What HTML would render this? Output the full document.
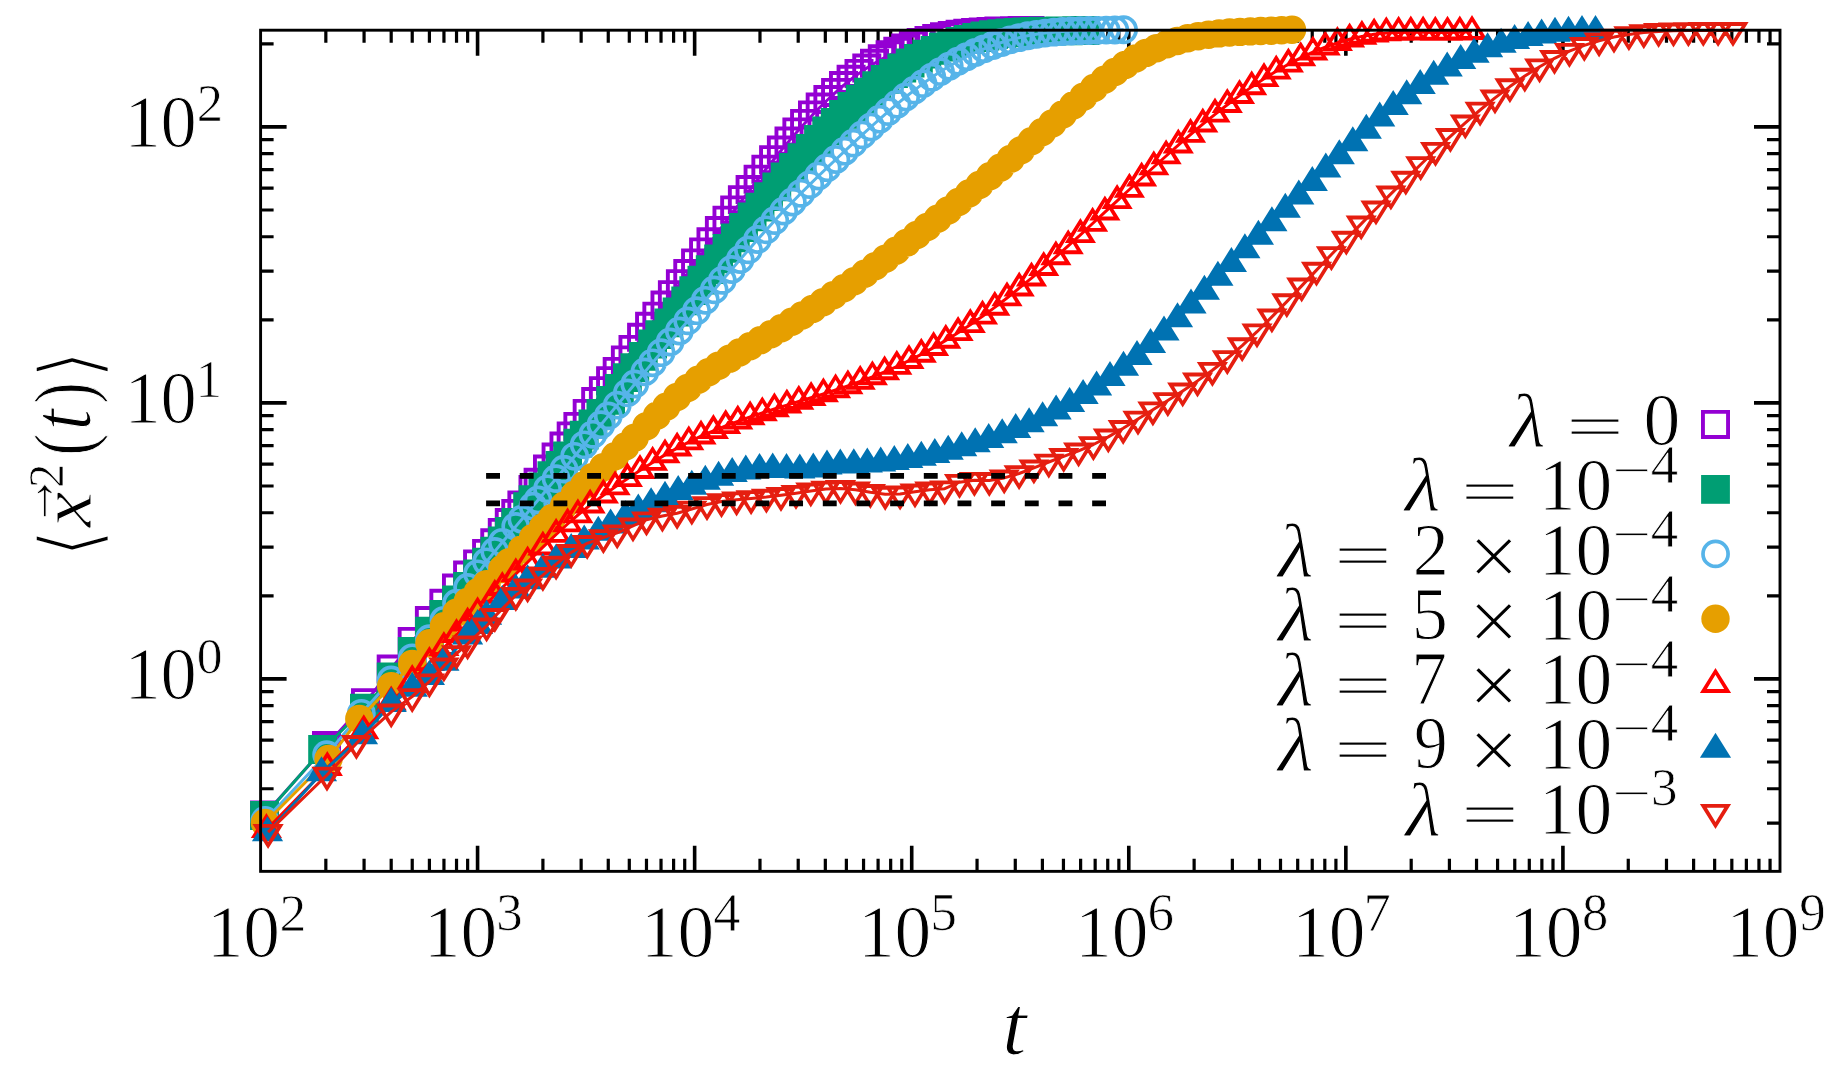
<!DOCTYPE html>
<html><head><meta charset="utf-8"><style>
html,body{margin:0;padding:0;background:#fff;}
svg{display:block;}
text{font-family:'Liberation Serif','DejaVu Serif',serif;fill:#000;stroke:#fff;stroke-width:1.4px;}
</style></head><body>
<svg width="1843" height="1078" viewBox="0 0 1843 1078">
<rect width="1843" height="1078" fill="#fff"/>
<path d="M325.84 871.35V858.85M325.84 30.20V42.70M364.07 871.35V858.85M364.07 30.20V42.70M391.19 871.35V858.85M391.19 30.20V42.70M412.23 871.35V858.85M412.23 30.20V42.70M429.41 871.35V858.85M429.41 30.20V42.70M443.95 871.35V858.85M443.95 30.20V42.70M456.53 871.35V858.85M456.53 30.20V42.70M467.64 871.35V858.85M467.64 30.20V42.70M542.91 871.35V858.85M542.91 30.20V42.70M581.14 871.35V858.85M581.14 30.20V42.70M608.26 871.35V858.85M608.26 30.20V42.70M629.30 871.35V858.85M629.30 30.20V42.70M646.48 871.35V858.85M646.48 30.20V42.70M661.02 871.35V858.85M661.02 30.20V42.70M673.60 871.35V858.85M673.60 30.20V42.70M684.71 871.35V858.85M684.71 30.20V42.70M759.98 871.35V858.85M759.98 30.20V42.70M798.21 871.35V858.85M798.21 30.20V42.70M825.33 871.35V858.85M825.33 30.20V42.70M846.37 871.35V858.85M846.37 30.20V42.70M863.55 871.35V858.85M863.55 30.20V42.70M878.09 871.35V858.85M878.09 30.20V42.70M890.67 871.35V858.85M890.67 30.20V42.70M901.78 871.35V858.85M901.78 30.20V42.70M977.05 871.35V858.85M977.05 30.20V42.70M1015.28 871.35V858.85M1015.28 30.20V42.70M1042.40 871.35V858.85M1042.40 30.20V42.70M1063.44 871.35V858.85M1063.44 30.20V42.70M1080.62 871.35V858.85M1080.62 30.20V42.70M1095.16 871.35V858.85M1095.16 30.20V42.70M1107.74 871.35V858.85M1107.74 30.20V42.70M1118.85 871.35V858.85M1118.85 30.20V42.70M1194.12 871.35V858.85M1194.12 30.20V42.70M1232.35 871.35V858.85M1232.35 30.20V42.70M1259.47 871.35V858.85M1259.47 30.20V42.70M1280.51 871.35V858.85M1280.51 30.20V42.70M1297.69 871.35V858.85M1297.69 30.20V42.70M1312.23 871.35V858.85M1312.23 30.20V42.70M1324.81 871.35V858.85M1324.81 30.20V42.70M1335.92 871.35V858.85M1335.92 30.20V42.70M1411.19 871.35V858.85M1411.19 30.20V42.70M1449.42 871.35V858.85M1449.42 30.20V42.70M1476.54 871.35V858.85M1476.54 30.20V42.70M1497.58 871.35V858.85M1497.58 30.20V42.70M1514.76 871.35V858.85M1514.76 30.20V42.70M1529.30 871.35V858.85M1529.30 30.20V42.70M1541.88 871.35V858.85M1541.88 30.20V42.70M1552.99 871.35V858.85M1552.99 30.20V42.70M1628.26 871.35V858.85M1628.26 30.20V42.70M1666.49 871.35V858.85M1666.49 30.20V42.70M1693.61 871.35V858.85M1693.61 30.20V42.70M1714.65 871.35V858.85M1714.65 30.20V42.70M1731.83 871.35V858.85M1731.83 30.20V42.70M1746.37 871.35V858.85M1746.37 30.20V42.70M1758.95 871.35V858.85M1758.95 30.20V42.70M1770.06 871.35V858.85M1770.06 30.20V42.70M260.60 823.21H273.60M1780.00 823.21H1767.00M260.60 788.73H273.60M1780.00 788.73H1767.00M260.60 761.98H273.60M1780.00 761.98H1767.00M260.60 740.13H273.60M1780.00 740.13H1767.00M260.60 721.65H273.60M1780.00 721.65H1767.00M260.60 705.65H273.60M1780.00 705.65H1767.00M260.60 691.53H273.60M1780.00 691.53H1767.00M260.60 595.82H273.60M1780.00 595.82H1767.00M260.60 547.21H273.60M1780.00 547.21H1767.00M260.60 512.73H273.60M1780.00 512.73H1767.00M260.60 485.98H273.60M1780.00 485.98H1767.00M260.60 464.13H273.60M1780.00 464.13H1767.00M260.60 445.65H273.60M1780.00 445.65H1767.00M260.60 429.65H273.60M1780.00 429.65H1767.00M260.60 415.53H273.60M1780.00 415.53H1767.00M260.60 319.82H273.60M1780.00 319.82H1767.00M260.60 271.21H273.60M1780.00 271.21H1767.00M260.60 236.73H273.60M1780.00 236.73H1767.00M260.60 209.98H273.60M1780.00 209.98H1767.00M260.60 188.13H273.60M1780.00 188.13H1767.00M260.60 169.65H273.60M1780.00 169.65H1767.00M260.60 153.65H273.60M1780.00 153.65H1767.00M260.60 139.53H273.60M1780.00 139.53H1767.00M260.60 43.82H273.60M1780.00 43.82H1767.00" stroke="#000" stroke-width="3.2" fill="none"/>
<path d="M477.57 871.35V845.85M477.57 30.20V55.70M694.64 871.35V845.85M694.64 30.20V55.70M911.71 871.35V845.85M911.71 30.20V55.70M1128.78 871.35V845.85M1128.78 30.20V55.70M1345.85 871.35V845.85M1345.85 30.20V55.70M1562.92 871.35V845.85M1562.92 30.20V55.70M260.60 678.90H286.60M1780.00 678.90H1754.00M260.60 402.90H286.60M1780.00 402.90H1754.00M260.60 126.90H286.60M1780.00 126.90H1754.00" stroke="#000" stroke-width="3.6" fill="none"/>
<path d="M264.5 815.0L326.5 745.5L365.5 702.7L391.2 669.0L412.2 641.4L429.4 620.6L443.9 603.3L456.5 588.1L467.6 575.1L477.6 563.9L486.6 553.4L494.8 542.8L502.3 532.4L509.3 522.6L515.8 513.4L521.9 504.9L533.0 489.4L538.1 482.3L547.5 469.1L556.1 457.1L564.0 446.0L571.2 435.9L577.9 426.4L587.2 413.4L595.7 401.6L603.4 390.7L610.6 380.7L617.2 371.4L625.4 359.9L633.0 349.4L641.6 337.3L649.6 326.3L656.9 316.2L665.0 305.0L672.4 294.7L680.4 283.7L687.8 273.6L695.6 262.9L703.6 251.9L711.0 241.8L719.4 230.5L727.0 220.2L734.7 209.9L742.4 199.7L750.1 189.6L758.1 179.2L765.9 169.2L773.6 159.7L781.4 150.1L789.0 141.1L796.9 131.9L804.6 123.4L812.5 114.9L820.2 107.0L827.9 99.5L835.6 92.4L843.5 85.5L851.1 79.3L859.0 73.4L866.8 68.1L874.5 63.3L882.3 58.8L890.1 54.8L897.8 51.3L905.7 48.0L913.4 45.2L921.2 42.6L929.0 40.4L936.7 38.5L944.5 36.8L952.3 35.4L960.1 34.3L967.8 33.3L975.6 32.5L983.3 31.9L991.1 31.5L998.9 31.1L1006.7 30.9L1014.5 30.7L1022.2 30.6L1030.0 30.5" fill="none" stroke="#9400D3" stroke-width="3" stroke-linejoin="round"/>
<path d="M250.0 800.5h29.0v29.0h-29.0zM253.9 804.4v21.2h21.2v-21.2zM312.0 731.0h29.0v29.0h-29.0zM315.9 734.9v21.2h21.2v-21.2zM351.0 688.2h29.0v29.0h-29.0zM354.9 692.1v21.2h21.2v-21.2zM376.7 654.5h29.0v29.0h-29.0zM380.6 658.4v21.2h21.2v-21.2zM397.7 626.9h29.0v29.0h-29.0zM401.6 630.8v21.2h21.2v-21.2zM414.9 606.1h29.0v29.0h-29.0zM418.8 610.0v21.2h21.2v-21.2zM429.4 588.8h29.0v29.0h-29.0zM433.3 592.7v21.2h21.2v-21.2zM442.0 573.6h29.0v29.0h-29.0zM445.9 577.5v21.2h21.2v-21.2zM453.1 560.6h29.0v29.0h-29.0zM457.0 564.5v21.2h21.2v-21.2zM463.1 549.4h29.0v29.0h-29.0zM467.0 553.3v21.2h21.2v-21.2zM472.1 538.9h29.0v29.0h-29.0zM476.0 542.8v21.2h21.2v-21.2zM480.3 528.3h29.0v29.0h-29.0zM484.2 532.2v21.2h21.2v-21.2zM487.8 517.9h29.0v29.0h-29.0zM491.7 521.8v21.2h21.2v-21.2zM494.8 508.1h29.0v29.0h-29.0zM498.7 512.0v21.2h21.2v-21.2zM501.3 498.9h29.0v29.0h-29.0zM505.2 502.8v21.2h21.2v-21.2zM507.4 490.4h29.0v29.0h-29.0zM511.3 494.3v21.2h21.2v-21.2zM518.5 474.9h29.0v29.0h-29.0zM522.4 478.8v21.2h21.2v-21.2zM523.6 467.8h29.0v29.0h-29.0zM527.5 471.7v21.2h21.2v-21.2zM533.0 454.6h29.0v29.0h-29.0zM536.9 458.5v21.2h21.2v-21.2zM541.6 442.6h29.0v29.0h-29.0zM545.5 446.5v21.2h21.2v-21.2zM549.5 431.5h29.0v29.0h-29.0zM553.4 435.4v21.2h21.2v-21.2zM556.7 421.4h29.0v29.0h-29.0zM560.6 425.3v21.2h21.2v-21.2zM563.4 411.9h29.0v29.0h-29.0zM567.3 415.8v21.2h21.2v-21.2zM572.7 398.9h29.0v29.0h-29.0zM576.6 402.8v21.2h21.2v-21.2zM581.2 387.1h29.0v29.0h-29.0zM585.1 391.0v21.2h21.2v-21.2zM588.9 376.2h29.0v29.0h-29.0zM592.8 380.1v21.2h21.2v-21.2zM596.1 366.2h29.0v29.0h-29.0zM600.0 370.1v21.2h21.2v-21.2zM602.7 356.9h29.0v29.0h-29.0zM606.6 360.8v21.2h21.2v-21.2zM610.9 345.4h29.0v29.0h-29.0zM614.8 349.3v21.2h21.2v-21.2zM618.5 334.9h29.0v29.0h-29.0zM622.4 338.8v21.2h21.2v-21.2zM627.1 322.8h29.0v29.0h-29.0zM631.0 326.7v21.2h21.2v-21.2zM635.1 311.8h29.0v29.0h-29.0zM639.0 315.7v21.2h21.2v-21.2zM642.4 301.7h29.0v29.0h-29.0zM646.3 305.6v21.2h21.2v-21.2zM650.5 290.5h29.0v29.0h-29.0zM654.4 294.4v21.2h21.2v-21.2zM657.9 280.2h29.0v29.0h-29.0zM661.8 284.1v21.2h21.2v-21.2zM665.9 269.2h29.0v29.0h-29.0zM669.8 273.1v21.2h21.2v-21.2zM673.3 259.1h29.0v29.0h-29.0zM677.2 263.0v21.2h21.2v-21.2zM681.1 248.4h29.0v29.0h-29.0zM685.0 252.3v21.2h21.2v-21.2zM689.1 237.4h29.0v29.0h-29.0zM693.0 241.3v21.2h21.2v-21.2zM696.5 227.3h29.0v29.0h-29.0zM700.4 231.2v21.2h21.2v-21.2zM704.9 216.0h29.0v29.0h-29.0zM708.8 219.9v21.2h21.2v-21.2zM712.5 205.7h29.0v29.0h-29.0zM716.4 209.6v21.2h21.2v-21.2zM720.2 195.4h29.0v29.0h-29.0zM724.1 199.3v21.2h21.2v-21.2zM727.9 185.2h29.0v29.0h-29.0zM731.8 189.1v21.2h21.2v-21.2zM735.6 175.1h29.0v29.0h-29.0zM739.5 179.0v21.2h21.2v-21.2zM743.6 164.7h29.0v29.0h-29.0zM747.5 168.6v21.2h21.2v-21.2zM751.4 154.7h29.0v29.0h-29.0zM755.3 158.6v21.2h21.2v-21.2zM759.1 145.2h29.0v29.0h-29.0zM763.0 149.1v21.2h21.2v-21.2zM766.9 135.6h29.0v29.0h-29.0zM770.8 139.5v21.2h21.2v-21.2zM774.5 126.6h29.0v29.0h-29.0zM778.4 130.5v21.2h21.2v-21.2zM782.4 117.4h29.0v29.0h-29.0zM786.3 121.3v21.2h21.2v-21.2zM790.1 108.9h29.0v29.0h-29.0zM794.0 112.8v21.2h21.2v-21.2zM798.0 100.4h29.0v29.0h-29.0zM801.9 104.3v21.2h21.2v-21.2zM805.7 92.5h29.0v29.0h-29.0zM809.6 96.4v21.2h21.2v-21.2zM813.4 85.0h29.0v29.0h-29.0zM817.3 88.9v21.2h21.2v-21.2zM821.1 77.9h29.0v29.0h-29.0zM825.0 81.8v21.2h21.2v-21.2zM829.0 71.0h29.0v29.0h-29.0zM832.9 74.9v21.2h21.2v-21.2zM836.6 64.8h29.0v29.0h-29.0zM840.5 68.7v21.2h21.2v-21.2zM844.5 58.9h29.0v29.0h-29.0zM848.4 62.8v21.2h21.2v-21.2zM852.3 53.6h29.0v29.0h-29.0zM856.2 57.5v21.2h21.2v-21.2zM860.0 48.8h29.0v29.0h-29.0zM863.9 52.7v21.2h21.2v-21.2zM867.8 44.3h29.0v29.0h-29.0zM871.7 48.2v21.2h21.2v-21.2zM875.6 40.3h29.0v29.0h-29.0zM879.5 44.2v21.2h21.2v-21.2zM883.3 36.8h29.0v29.0h-29.0zM887.2 40.7v21.2h21.2v-21.2zM891.2 33.5h29.0v29.0h-29.0zM895.1 37.4v21.2h21.2v-21.2zM898.9 30.7h29.0v29.0h-29.0zM902.8 34.6v21.2h21.2v-21.2zM906.7 28.1h29.0v29.0h-29.0zM910.6 32.0v21.2h21.2v-21.2zM914.5 25.9h29.0v29.0h-29.0zM918.4 29.8v21.2h21.2v-21.2zM922.2 24.0h29.0v29.0h-29.0zM926.1 27.9v21.2h21.2v-21.2zM930.0 22.3h29.0v29.0h-29.0zM933.9 26.2v21.2h21.2v-21.2zM937.8 20.9h29.0v29.0h-29.0zM941.7 24.8v21.2h21.2v-21.2zM945.6 19.8h29.0v29.0h-29.0zM949.5 23.7v21.2h21.2v-21.2zM953.3 18.8h29.0v29.0h-29.0zM957.2 22.7v21.2h21.2v-21.2zM961.1 18.0h29.0v29.0h-29.0zM965.0 21.9v21.2h21.2v-21.2zM968.8 17.4h29.0v29.0h-29.0zM972.7 21.3v21.2h21.2v-21.2zM976.6 17.0h29.0v29.0h-29.0zM980.5 20.9v21.2h21.2v-21.2zM984.4 16.6h29.0v29.0h-29.0zM988.3 20.5v21.2h21.2v-21.2zM992.2 16.4h29.0v29.0h-29.0zM996.1 20.3v21.2h21.2v-21.2zM1000.0 16.2h29.0v29.0h-29.0zM1003.9 20.1v21.2h21.2v-21.2zM1007.7 16.1h29.0v29.0h-29.0zM1011.6 20.0v21.2h21.2v-21.2zM1015.5 16.0h29.0v29.0h-29.0zM1019.4 19.9v21.2h21.2v-21.2z" fill="#9400D3" fill-rule="nonzero"/>
<path d="M264.5 815.5L322.6 749.5L364.4 708.2L391.2 676.8L412.2 651.3L429.4 631.2L443.9 614.5L456.5 599.8L467.6 586.4L477.6 573.9L486.6 562.1L494.8 551.1L502.3 540.8L509.3 531.3L515.8 522.5L527.6 506.7L533.0 499.6L542.9 486.9L551.9 475.6L560.1 465.3L567.6 456.0L577.9 443.1L584.2 435.2L592.9 424.0L600.9 413.5L610.6 400.4L619.4 388.5L627.4 377.6L634.8 367.6L643.3 356.3L652.6 344.0L659.7 334.7L668.8 322.8L677.1 312.0L685.7 300.9L693.7 290.7L701.9 280.2L710.2 269.6L718.6 258.9L727.0 248.3L735.3 237.8L743.5 227.5L752.1 216.8L760.0 207.1L768.5 196.7L776.8 186.8L785.1 176.9L793.4 167.3L801.9 157.6L810.3 148.3L818.5 139.5L826.7 130.9L835.2 122.4L843.5 114.3L851.9 106.5L860.2 99.1L868.5 92.2L876.7 85.6L885.1 79.3L893.5 73.5L901.8 68.0L910.1 63.0L918.4 58.4L926.8 54.2L935.1 50.4L943.4 47.0L951.7 44.1L960.1 41.5L968.4 39.3L976.7 37.5L985.0 36.0L993.4 34.7L1001.7 33.7L1010.0 32.9L1018.4 32.3L1026.7 31.8L1035.0 31.5L1043.4 31.2L1051.7 31.1L1060.0 30.9L1068.3 30.8L1076.7 30.6L1085.0 30.5" fill="none" stroke="#009E73" stroke-width="3" stroke-linejoin="round"/>
<path d="M250.1 801.1h28.8v28.8h-28.8zM308.2 735.1h28.8v28.8h-28.8zM350.0 693.8h28.8v28.8h-28.8zM376.8 662.4h28.8v28.8h-28.8zM397.8 636.9h28.8v28.8h-28.8zM415.0 616.8h28.8v28.8h-28.8zM429.5 600.1h28.8v28.8h-28.8zM442.1 585.4h28.8v28.8h-28.8zM453.2 572.0h28.8v28.8h-28.8zM463.2 559.5h28.8v28.8h-28.8zM472.2 547.7h28.8v28.8h-28.8zM480.4 536.7h28.8v28.8h-28.8zM487.9 526.4h28.8v28.8h-28.8zM494.9 516.9h28.8v28.8h-28.8zM501.4 508.1h28.8v28.8h-28.8zM513.2 492.3h28.8v28.8h-28.8zM518.6 485.2h28.8v28.8h-28.8zM528.5 472.5h28.8v28.8h-28.8zM537.5 461.2h28.8v28.8h-28.8zM545.7 450.9h28.8v28.8h-28.8zM553.2 441.6h28.8v28.8h-28.8zM563.5 428.7h28.8v28.8h-28.8zM569.8 420.8h28.8v28.8h-28.8zM578.5 409.6h28.8v28.8h-28.8zM586.5 399.1h28.8v28.8h-28.8zM596.2 386.0h28.8v28.8h-28.8zM605.0 374.1h28.8v28.8h-28.8zM613.0 363.2h28.8v28.8h-28.8zM620.4 353.2h28.8v28.8h-28.8zM628.9 341.9h28.8v28.8h-28.8zM638.2 329.6h28.8v28.8h-28.8zM645.3 320.3h28.8v28.8h-28.8zM654.4 308.4h28.8v28.8h-28.8zM662.7 297.6h28.8v28.8h-28.8zM671.3 286.5h28.8v28.8h-28.8zM679.3 276.3h28.8v28.8h-28.8zM687.5 265.8h28.8v28.8h-28.8zM695.8 255.2h28.8v28.8h-28.8zM704.2 244.5h28.8v28.8h-28.8zM712.6 233.9h28.8v28.8h-28.8zM720.9 223.4h28.8v28.8h-28.8zM729.1 213.1h28.8v28.8h-28.8zM737.7 202.4h28.8v28.8h-28.8zM745.6 192.7h28.8v28.8h-28.8zM754.1 182.3h28.8v28.8h-28.8zM762.4 172.4h28.8v28.8h-28.8zM770.7 162.5h28.8v28.8h-28.8zM779.0 152.9h28.8v28.8h-28.8zM787.5 143.2h28.8v28.8h-28.8zM795.9 133.9h28.8v28.8h-28.8zM804.1 125.1h28.8v28.8h-28.8zM812.3 116.5h28.8v28.8h-28.8zM820.8 108.0h28.8v28.8h-28.8zM829.1 99.9h28.8v28.8h-28.8zM837.5 92.1h28.8v28.8h-28.8zM845.8 84.7h28.8v28.8h-28.8zM854.1 77.8h28.8v28.8h-28.8zM862.3 71.2h28.8v28.8h-28.8zM870.7 64.9h28.8v28.8h-28.8zM879.1 59.1h28.8v28.8h-28.8zM887.4 53.6h28.8v28.8h-28.8zM895.7 48.6h28.8v28.8h-28.8zM904.0 44.0h28.8v28.8h-28.8zM912.4 39.8h28.8v28.8h-28.8zM920.7 36.0h28.8v28.8h-28.8zM929.0 32.6h28.8v28.8h-28.8zM937.3 29.7h28.8v28.8h-28.8zM945.7 27.1h28.8v28.8h-28.8zM954.0 24.9h28.8v28.8h-28.8zM962.3 23.1h28.8v28.8h-28.8zM970.6 21.6h28.8v28.8h-28.8zM979.0 20.3h28.8v28.8h-28.8zM987.3 19.3h28.8v28.8h-28.8zM995.6 18.5h28.8v28.8h-28.8zM1004.0 17.9h28.8v28.8h-28.8zM1012.3 17.4h28.8v28.8h-28.8zM1020.6 17.1h28.8v28.8h-28.8zM1029.0 16.8h28.8v28.8h-28.8zM1037.3 16.7h28.8v28.8h-28.8zM1045.6 16.5h28.8v28.8h-28.8zM1053.9 16.4h28.8v28.8h-28.8zM1062.3 16.2h28.8v28.8h-28.8zM1070.6 16.1h28.8v28.8h-28.8z" fill="#009E73" fill-rule="nonzero"/>
<path d="M265.0 820.4L326.6 754.6L361.3 713.3L391.2 679.9L412.2 657.8L429.4 638.6L443.9 620.3L456.5 603.1L467.6 587.5L477.6 573.8L486.6 561.8L494.8 551.4L502.3 542.3L515.8 526.4L521.9 519.2L533.0 506.1L538.1 500.0L547.5 488.8L556.1 478.6L564.0 469.1L574.6 456.3L584.2 444.8L592.9 434.3L600.9 424.7L608.3 415.9L617.2 405.1L627.4 392.9L634.8 384.0L644.9 371.9L652.6 362.8L661.0 352.7L670.0 342.0L679.3 331.0L687.8 320.9L696.5 310.7L705.3 300.3L714.2 289.9L722.2 280.4L731.6 269.5L740.1 259.5L748.5 249.9L757.6 239.5L766.4 229.8L774.8 220.6L783.6 211.1L792.4 202.0L801.0 193.3L809.7 184.6L818.5 176.0L827.2 167.7L835.8 159.5L844.7 151.2L853.3 143.1L862.1 134.9L870.8 127.0L879.6 119.2L888.2 111.6L896.9 104.2L905.7 97.0L914.4 90.1L923.1 83.6L931.8 77.3L940.5 71.6L949.2 66.2L957.9 61.2L966.6 56.7L975.4 52.5L984.1 48.8L992.8 45.5L1001.5 42.5L1010.3 39.9L1019.0 37.7L1027.7 35.8L1036.4 34.3L1045.1 33.1L1053.9 32.2L1062.6 31.5L1071.3 31.0L1080.0 30.7L1088.7 30.5L1097.4 30.3L1106.2 30.1L1114.9 30.0L1123.6 29.8" fill="none" stroke="#56B4E9" stroke-width="3" stroke-linejoin="round"/>
<path d="M252.4 820.4a12.55 12.55 0 1 0 25.1 0a12.55 12.55 0 1 0 -25.1 0zM314.1 754.6a12.55 12.55 0 1 0 25.1 0a12.55 12.55 0 1 0 -25.1 0zM348.8 713.3a12.55 12.55 0 1 0 25.1 0a12.55 12.55 0 1 0 -25.1 0zM378.6 679.9a12.55 12.55 0 1 0 25.1 0a12.55 12.55 0 1 0 -25.1 0zM399.7 657.8a12.55 12.55 0 1 0 25.1 0a12.55 12.55 0 1 0 -25.1 0zM416.9 638.6a12.55 12.55 0 1 0 25.1 0a12.55 12.55 0 1 0 -25.1 0zM431.4 620.3a12.55 12.55 0 1 0 25.1 0a12.55 12.55 0 1 0 -25.1 0zM444.0 603.1a12.55 12.55 0 1 0 25.1 0a12.55 12.55 0 1 0 -25.1 0zM455.1 587.5a12.55 12.55 0 1 0 25.1 0a12.55 12.55 0 1 0 -25.1 0zM465.0 573.8a12.55 12.55 0 1 0 25.1 0a12.55 12.55 0 1 0 -25.1 0zM474.0 561.8a12.55 12.55 0 1 0 25.1 0a12.55 12.55 0 1 0 -25.1 0zM482.2 551.4a12.55 12.55 0 1 0 25.1 0a12.55 12.55 0 1 0 -25.1 0zM489.8 542.3a12.55 12.55 0 1 0 25.1 0a12.55 12.55 0 1 0 -25.1 0zM503.2 526.4a12.55 12.55 0 1 0 25.1 0a12.55 12.55 0 1 0 -25.1 0zM509.3 519.2a12.55 12.55 0 1 0 25.1 0a12.55 12.55 0 1 0 -25.1 0zM520.4 506.1a12.55 12.55 0 1 0 25.1 0a12.55 12.55 0 1 0 -25.1 0zM525.5 500.0a12.55 12.55 0 1 0 25.1 0a12.55 12.55 0 1 0 -25.1 0zM535.0 488.8a12.55 12.55 0 1 0 25.1 0a12.55 12.55 0 1 0 -25.1 0zM543.5 478.6a12.55 12.55 0 1 0 25.1 0a12.55 12.55 0 1 0 -25.1 0zM551.4 469.1a12.55 12.55 0 1 0 25.1 0a12.55 12.55 0 1 0 -25.1 0zM562.1 456.3a12.55 12.55 0 1 0 25.1 0a12.55 12.55 0 1 0 -25.1 0zM571.7 444.8a12.55 12.55 0 1 0 25.1 0a12.55 12.55 0 1 0 -25.1 0zM580.4 434.3a12.55 12.55 0 1 0 25.1 0a12.55 12.55 0 1 0 -25.1 0zM588.4 424.7a12.55 12.55 0 1 0 25.1 0a12.55 12.55 0 1 0 -25.1 0zM595.7 415.9a12.55 12.55 0 1 0 25.1 0a12.55 12.55 0 1 0 -25.1 0zM604.7 405.1a12.55 12.55 0 1 0 25.1 0a12.55 12.55 0 1 0 -25.1 0zM614.8 392.9a12.55 12.55 0 1 0 25.1 0a12.55 12.55 0 1 0 -25.1 0zM622.2 384.0a12.55 12.55 0 1 0 25.1 0a12.55 12.55 0 1 0 -25.1 0zM632.3 371.9a12.55 12.55 0 1 0 25.1 0a12.55 12.55 0 1 0 -25.1 0zM640.0 362.8a12.55 12.55 0 1 0 25.1 0a12.55 12.55 0 1 0 -25.1 0zM648.5 352.7a12.55 12.55 0 1 0 25.1 0a12.55 12.55 0 1 0 -25.1 0zM657.5 342.0a12.55 12.55 0 1 0 25.1 0a12.55 12.55 0 1 0 -25.1 0zM666.8 331.0a12.55 12.55 0 1 0 25.1 0a12.55 12.55 0 1 0 -25.1 0zM675.2 320.9a12.55 12.55 0 1 0 25.1 0a12.55 12.55 0 1 0 -25.1 0zM684.0 310.7a12.55 12.55 0 1 0 25.1 0a12.55 12.55 0 1 0 -25.1 0zM692.8 300.3a12.55 12.55 0 1 0 25.1 0a12.55 12.55 0 1 0 -25.1 0zM701.6 289.9a12.55 12.55 0 1 0 25.1 0a12.55 12.55 0 1 0 -25.1 0zM709.7 280.4a12.55 12.55 0 1 0 25.1 0a12.55 12.55 0 1 0 -25.1 0zM719.0 269.5a12.55 12.55 0 1 0 25.1 0a12.55 12.55 0 1 0 -25.1 0zM727.6 259.5a12.55 12.55 0 1 0 25.1 0a12.55 12.55 0 1 0 -25.1 0zM735.9 249.9a12.55 12.55 0 1 0 25.1 0a12.55 12.55 0 1 0 -25.1 0zM745.0 239.5a12.55 12.55 0 1 0 25.1 0a12.55 12.55 0 1 0 -25.1 0zM753.8 229.8a12.55 12.55 0 1 0 25.1 0a12.55 12.55 0 1 0 -25.1 0zM762.2 220.6a12.55 12.55 0 1 0 25.1 0a12.55 12.55 0 1 0 -25.1 0zM771.1 211.1a12.55 12.55 0 1 0 25.1 0a12.55 12.55 0 1 0 -25.1 0zM779.8 202.0a12.55 12.55 0 1 0 25.1 0a12.55 12.55 0 1 0 -25.1 0zM788.4 193.3a12.55 12.55 0 1 0 25.1 0a12.55 12.55 0 1 0 -25.1 0zM797.2 184.6a12.55 12.55 0 1 0 25.1 0a12.55 12.55 0 1 0 -25.1 0zM805.9 176.0a12.55 12.55 0 1 0 25.1 0a12.55 12.55 0 1 0 -25.1 0zM814.6 167.7a12.55 12.55 0 1 0 25.1 0a12.55 12.55 0 1 0 -25.1 0zM823.3 159.5a12.55 12.55 0 1 0 25.1 0a12.55 12.55 0 1 0 -25.1 0zM832.1 151.2a12.55 12.55 0 1 0 25.1 0a12.55 12.55 0 1 0 -25.1 0zM840.7 143.1a12.55 12.55 0 1 0 25.1 0a12.55 12.55 0 1 0 -25.1 0zM849.6 134.9a12.55 12.55 0 1 0 25.1 0a12.55 12.55 0 1 0 -25.1 0zM858.3 127.0a12.55 12.55 0 1 0 25.1 0a12.55 12.55 0 1 0 -25.1 0zM867.0 119.2a12.55 12.55 0 1 0 25.1 0a12.55 12.55 0 1 0 -25.1 0zM875.6 111.6a12.55 12.55 0 1 0 25.1 0a12.55 12.55 0 1 0 -25.1 0zM884.4 104.2a12.55 12.55 0 1 0 25.1 0a12.55 12.55 0 1 0 -25.1 0zM893.1 97.0a12.55 12.55 0 1 0 25.1 0a12.55 12.55 0 1 0 -25.1 0zM901.9 90.1a12.55 12.55 0 1 0 25.1 0a12.55 12.55 0 1 0 -25.1 0zM910.5 83.6a12.55 12.55 0 1 0 25.1 0a12.55 12.55 0 1 0 -25.1 0zM919.3 77.3a12.55 12.55 0 1 0 25.1 0a12.55 12.55 0 1 0 -25.1 0zM927.9 71.6a12.55 12.55 0 1 0 25.1 0a12.55 12.55 0 1 0 -25.1 0zM936.7 66.2a12.55 12.55 0 1 0 25.1 0a12.55 12.55 0 1 0 -25.1 0zM945.4 61.2a12.55 12.55 0 1 0 25.1 0a12.55 12.55 0 1 0 -25.1 0zM954.1 56.7a12.55 12.55 0 1 0 25.1 0a12.55 12.55 0 1 0 -25.1 0zM962.8 52.5a12.55 12.55 0 1 0 25.1 0a12.55 12.55 0 1 0 -25.1 0zM971.5 48.8a12.55 12.55 0 1 0 25.1 0a12.55 12.55 0 1 0 -25.1 0zM980.3 45.5a12.55 12.55 0 1 0 25.1 0a12.55 12.55 0 1 0 -25.1 0zM989.0 42.5a12.55 12.55 0 1 0 25.1 0a12.55 12.55 0 1 0 -25.1 0zM997.7 39.9a12.55 12.55 0 1 0 25.1 0a12.55 12.55 0 1 0 -25.1 0zM1006.4 37.7a12.55 12.55 0 1 0 25.1 0a12.55 12.55 0 1 0 -25.1 0zM1015.2 35.8a12.55 12.55 0 1 0 25.1 0a12.55 12.55 0 1 0 -25.1 0zM1023.9 34.3a12.55 12.55 0 1 0 25.1 0a12.55 12.55 0 1 0 -25.1 0zM1032.6 33.1a12.55 12.55 0 1 0 25.1 0a12.55 12.55 0 1 0 -25.1 0zM1041.3 32.2a12.55 12.55 0 1 0 25.1 0a12.55 12.55 0 1 0 -25.1 0zM1050.0 31.5a12.55 12.55 0 1 0 25.1 0a12.55 12.55 0 1 0 -25.1 0zM1058.7 31.0a12.55 12.55 0 1 0 25.1 0a12.55 12.55 0 1 0 -25.1 0zM1067.5 30.7a12.55 12.55 0 1 0 25.1 0a12.55 12.55 0 1 0 -25.1 0zM1076.2 30.5a12.55 12.55 0 1 0 25.1 0a12.55 12.55 0 1 0 -25.1 0zM1084.9 30.3a12.55 12.55 0 1 0 25.1 0a12.55 12.55 0 1 0 -25.1 0zM1093.6 30.1a12.55 12.55 0 1 0 25.1 0a12.55 12.55 0 1 0 -25.1 0zM1102.3 30.0a12.55 12.55 0 1 0 25.1 0a12.55 12.55 0 1 0 -25.1 0zM1111.0 29.8a12.55 12.55 0 1 0 25.1 0a12.55 12.55 0 1 0 -25.1 0z" fill="none" stroke="#56B4E9" stroke-width="3.7"/>
<path d="M265.0 823.0L328.5 759.0L359.3 718.9L391.2 686.1L412.2 663.9L429.4 643.2L443.9 626.2L456.5 612.8L467.6 601.9L477.6 592.5L486.6 584.1L502.3 569.0L509.3 562.1L521.9 549.4L533.0 537.9L542.9 527.5L551.9 518.2L564.0 505.7L574.6 494.8L584.2 485.3L592.9 476.9L603.4 467.1L615.1 456.2L625.4 446.5L634.8 437.6L646.5 426.1L656.9 415.8L666.3 406.7L677.1 396.9L687.8 387.9L698.3 379.7L708.6 372.3L718.6 365.6L729.7 358.6L739.5 352.5L750.1 346.3L760.5 340.3L771.1 334.2L781.4 328.2L792.0 321.8L802.2 315.5L812.7 308.9L823.2 302.1L833.5 295.3L843.9 288.3L854.3 281.1L864.8 273.7L875.2 266.2L885.6 258.6L896.1 250.8L906.5 242.9L916.9 234.9L927.3 226.9L937.7 218.7L948.2 210.4L958.6 202.0L969.0 193.5L979.4 185.0L989.9 176.3L1000.3 167.7L1010.7 158.9L1021.1 150.1L1031.5 141.2L1042.0 132.3L1052.4 123.4L1062.8 114.4L1073.2 105.5L1083.6 96.6L1094.0 88.0L1104.5 79.8L1114.9 72.0L1125.3 64.9L1135.7 58.5L1146.1 52.9L1156.6 48.2L1167.0 44.2L1177.4 41.0L1187.8 38.3L1198.2 36.3L1208.6 34.7L1219.1 33.4L1229.5 32.5L1239.9 31.9L1250.3 31.4L1260.7 31.0L1271.2 30.7L1281.6 30.3L1292.0 29.8" fill="none" stroke="#E69F00" stroke-width="3" stroke-linejoin="round"/>
<path d="M250.8 823.0a14.2 14.2 0 1 0 28.4 0a14.2 14.2 0 1 0 -28.4 0zM314.3 759.0a14.2 14.2 0 1 0 28.4 0a14.2 14.2 0 1 0 -28.4 0zM345.1 718.9a14.2 14.2 0 1 0 28.4 0a14.2 14.2 0 1 0 -28.4 0zM377.0 686.1a14.2 14.2 0 1 0 28.4 0a14.2 14.2 0 1 0 -28.4 0zM398.0 663.9a14.2 14.2 0 1 0 28.4 0a14.2 14.2 0 1 0 -28.4 0zM415.2 643.2a14.2 14.2 0 1 0 28.4 0a14.2 14.2 0 1 0 -28.4 0zM429.7 626.2a14.2 14.2 0 1 0 28.4 0a14.2 14.2 0 1 0 -28.4 0zM442.3 612.8a14.2 14.2 0 1 0 28.4 0a14.2 14.2 0 1 0 -28.4 0zM453.4 601.9a14.2 14.2 0 1 0 28.4 0a14.2 14.2 0 1 0 -28.4 0zM463.4 592.5a14.2 14.2 0 1 0 28.4 0a14.2 14.2 0 1 0 -28.4 0zM472.4 584.1a14.2 14.2 0 1 0 28.4 0a14.2 14.2 0 1 0 -28.4 0zM488.1 569.0a14.2 14.2 0 1 0 28.4 0a14.2 14.2 0 1 0 -28.4 0zM495.1 562.1a14.2 14.2 0 1 0 28.4 0a14.2 14.2 0 1 0 -28.4 0zM507.7 549.4a14.2 14.2 0 1 0 28.4 0a14.2 14.2 0 1 0 -28.4 0zM518.8 537.9a14.2 14.2 0 1 0 28.4 0a14.2 14.2 0 1 0 -28.4 0zM528.7 527.5a14.2 14.2 0 1 0 28.4 0a14.2 14.2 0 1 0 -28.4 0zM537.7 518.2a14.2 14.2 0 1 0 28.4 0a14.2 14.2 0 1 0 -28.4 0zM549.8 505.7a14.2 14.2 0 1 0 28.4 0a14.2 14.2 0 1 0 -28.4 0zM560.4 494.8a14.2 14.2 0 1 0 28.4 0a14.2 14.2 0 1 0 -28.4 0zM570.0 485.3a14.2 14.2 0 1 0 28.4 0a14.2 14.2 0 1 0 -28.4 0zM578.7 476.9a14.2 14.2 0 1 0 28.4 0a14.2 14.2 0 1 0 -28.4 0zM589.2 467.1a14.2 14.2 0 1 0 28.4 0a14.2 14.2 0 1 0 -28.4 0zM600.9 456.2a14.2 14.2 0 1 0 28.4 0a14.2 14.2 0 1 0 -28.4 0zM611.2 446.5a14.2 14.2 0 1 0 28.4 0a14.2 14.2 0 1 0 -28.4 0zM620.6 437.6a14.2 14.2 0 1 0 28.4 0a14.2 14.2 0 1 0 -28.4 0zM632.3 426.1a14.2 14.2 0 1 0 28.4 0a14.2 14.2 0 1 0 -28.4 0zM642.7 415.8a14.2 14.2 0 1 0 28.4 0a14.2 14.2 0 1 0 -28.4 0zM652.1 406.7a14.2 14.2 0 1 0 28.4 0a14.2 14.2 0 1 0 -28.4 0zM662.9 396.9a14.2 14.2 0 1 0 28.4 0a14.2 14.2 0 1 0 -28.4 0zM673.6 387.9a14.2 14.2 0 1 0 28.4 0a14.2 14.2 0 1 0 -28.4 0zM684.1 379.7a14.2 14.2 0 1 0 28.4 0a14.2 14.2 0 1 0 -28.4 0zM694.4 372.3a14.2 14.2 0 1 0 28.4 0a14.2 14.2 0 1 0 -28.4 0zM704.4 365.6a14.2 14.2 0 1 0 28.4 0a14.2 14.2 0 1 0 -28.4 0zM715.5 358.6a14.2 14.2 0 1 0 28.4 0a14.2 14.2 0 1 0 -28.4 0zM725.3 352.5a14.2 14.2 0 1 0 28.4 0a14.2 14.2 0 1 0 -28.4 0zM735.9 346.3a14.2 14.2 0 1 0 28.4 0a14.2 14.2 0 1 0 -28.4 0zM746.3 340.3a14.2 14.2 0 1 0 28.4 0a14.2 14.2 0 1 0 -28.4 0zM756.9 334.2a14.2 14.2 0 1 0 28.4 0a14.2 14.2 0 1 0 -28.4 0zM767.2 328.2a14.2 14.2 0 1 0 28.4 0a14.2 14.2 0 1 0 -28.4 0zM777.8 321.8a14.2 14.2 0 1 0 28.4 0a14.2 14.2 0 1 0 -28.4 0zM788.0 315.5a14.2 14.2 0 1 0 28.4 0a14.2 14.2 0 1 0 -28.4 0zM798.5 308.9a14.2 14.2 0 1 0 28.4 0a14.2 14.2 0 1 0 -28.4 0zM809.0 302.1a14.2 14.2 0 1 0 28.4 0a14.2 14.2 0 1 0 -28.4 0zM819.3 295.3a14.2 14.2 0 1 0 28.4 0a14.2 14.2 0 1 0 -28.4 0zM829.7 288.3a14.2 14.2 0 1 0 28.4 0a14.2 14.2 0 1 0 -28.4 0zM840.1 281.1a14.2 14.2 0 1 0 28.4 0a14.2 14.2 0 1 0 -28.4 0zM850.6 273.7a14.2 14.2 0 1 0 28.4 0a14.2 14.2 0 1 0 -28.4 0zM861.0 266.2a14.2 14.2 0 1 0 28.4 0a14.2 14.2 0 1 0 -28.4 0zM871.4 258.6a14.2 14.2 0 1 0 28.4 0a14.2 14.2 0 1 0 -28.4 0zM881.9 250.8a14.2 14.2 0 1 0 28.4 0a14.2 14.2 0 1 0 -28.4 0zM892.3 242.9a14.2 14.2 0 1 0 28.4 0a14.2 14.2 0 1 0 -28.4 0zM902.7 234.9a14.2 14.2 0 1 0 28.4 0a14.2 14.2 0 1 0 -28.4 0zM913.1 226.9a14.2 14.2 0 1 0 28.4 0a14.2 14.2 0 1 0 -28.4 0zM923.5 218.7a14.2 14.2 0 1 0 28.4 0a14.2 14.2 0 1 0 -28.4 0zM934.0 210.4a14.2 14.2 0 1 0 28.4 0a14.2 14.2 0 1 0 -28.4 0zM944.4 202.0a14.2 14.2 0 1 0 28.4 0a14.2 14.2 0 1 0 -28.4 0zM954.8 193.5a14.2 14.2 0 1 0 28.4 0a14.2 14.2 0 1 0 -28.4 0zM965.2 185.0a14.2 14.2 0 1 0 28.4 0a14.2 14.2 0 1 0 -28.4 0zM975.7 176.3a14.2 14.2 0 1 0 28.4 0a14.2 14.2 0 1 0 -28.4 0zM986.1 167.7a14.2 14.2 0 1 0 28.4 0a14.2 14.2 0 1 0 -28.4 0zM996.5 158.9a14.2 14.2 0 1 0 28.4 0a14.2 14.2 0 1 0 -28.4 0zM1006.9 150.1a14.2 14.2 0 1 0 28.4 0a14.2 14.2 0 1 0 -28.4 0zM1017.3 141.2a14.2 14.2 0 1 0 28.4 0a14.2 14.2 0 1 0 -28.4 0zM1027.8 132.3a14.2 14.2 0 1 0 28.4 0a14.2 14.2 0 1 0 -28.4 0zM1038.2 123.4a14.2 14.2 0 1 0 28.4 0a14.2 14.2 0 1 0 -28.4 0zM1048.6 114.4a14.2 14.2 0 1 0 28.4 0a14.2 14.2 0 1 0 -28.4 0zM1059.0 105.5a14.2 14.2 0 1 0 28.4 0a14.2 14.2 0 1 0 -28.4 0zM1069.4 96.6a14.2 14.2 0 1 0 28.4 0a14.2 14.2 0 1 0 -28.4 0zM1079.8 88.0a14.2 14.2 0 1 0 28.4 0a14.2 14.2 0 1 0 -28.4 0zM1090.3 79.8a14.2 14.2 0 1 0 28.4 0a14.2 14.2 0 1 0 -28.4 0zM1100.7 72.0a14.2 14.2 0 1 0 28.4 0a14.2 14.2 0 1 0 -28.4 0zM1111.1 64.9a14.2 14.2 0 1 0 28.4 0a14.2 14.2 0 1 0 -28.4 0zM1121.5 58.5a14.2 14.2 0 1 0 28.4 0a14.2 14.2 0 1 0 -28.4 0zM1131.9 52.9a14.2 14.2 0 1 0 28.4 0a14.2 14.2 0 1 0 -28.4 0zM1142.4 48.2a14.2 14.2 0 1 0 28.4 0a14.2 14.2 0 1 0 -28.4 0zM1152.8 44.2a14.2 14.2 0 1 0 28.4 0a14.2 14.2 0 1 0 -28.4 0zM1163.2 41.0a14.2 14.2 0 1 0 28.4 0a14.2 14.2 0 1 0 -28.4 0zM1173.6 38.3a14.2 14.2 0 1 0 28.4 0a14.2 14.2 0 1 0 -28.4 0zM1184.0 36.3a14.2 14.2 0 1 0 28.4 0a14.2 14.2 0 1 0 -28.4 0zM1194.4 34.7a14.2 14.2 0 1 0 28.4 0a14.2 14.2 0 1 0 -28.4 0zM1204.9 33.4a14.2 14.2 0 1 0 28.4 0a14.2 14.2 0 1 0 -28.4 0zM1215.3 32.5a14.2 14.2 0 1 0 28.4 0a14.2 14.2 0 1 0 -28.4 0zM1225.7 31.9a14.2 14.2 0 1 0 28.4 0a14.2 14.2 0 1 0 -28.4 0zM1236.1 31.4a14.2 14.2 0 1 0 28.4 0a14.2 14.2 0 1 0 -28.4 0zM1246.5 31.0a14.2 14.2 0 1 0 28.4 0a14.2 14.2 0 1 0 -28.4 0zM1257.0 30.7a14.2 14.2 0 1 0 28.4 0a14.2 14.2 0 1 0 -28.4 0zM1267.4 30.3a14.2 14.2 0 1 0 28.4 0a14.2 14.2 0 1 0 -28.4 0zM1277.8 29.8a14.2 14.2 0 1 0 28.4 0a14.2 14.2 0 1 0 -28.4 0z" fill="#E69F00" fill-rule="nonzero"/>
<path d="M266.4 829.8L327.3 767.6L363.8 730.9L391.2 702.3L412.2 680.6L429.4 662.8L443.9 647.7L456.5 634.7L467.6 623.2L477.6 613.0L494.8 595.4L502.3 587.7L515.8 574.0L527.6 562.2L542.9 547.1L556.1 534.5L567.6 524.0L577.9 515.0L590.1 505.1L603.4 495.2L615.1 487.0L627.4 478.8L640.0 470.6L652.6 462.5L665.0 454.9L677.1 448.1L688.8 442.0L701.0 436.2L713.4 430.8L725.7 425.8L737.8 421.3L750.1 416.9L762.3 412.9L774.4 409.0L786.9 405.1L798.8 401.5L811.1 397.7L823.4 393.9L835.6 390.0L847.9 385.9L860.2 381.5L872.4 376.9L884.6 371.9L896.8 366.5L909.0 360.7L921.3 354.4L933.6 347.6L945.8 340.4L958.1 332.8L970.3 324.8L982.5 316.3L994.8 307.4L1007.0 298.0L1019.2 288.2L1031.5 278.1L1043.7 267.6L1055.9 256.9L1068.2 245.9L1080.4 234.8L1092.6 223.5L1104.9 212.2L1117.1 200.8L1129.4 189.5L1141.6 178.2L1153.8 167.0L1166.1 156.0L1178.3 145.1L1190.5 134.5L1202.8 124.2L1215.0 114.3L1227.3 104.7L1239.5 95.6L1251.7 86.9L1264.0 78.8L1276.2 71.3L1288.4 64.3L1300.7 57.9L1312.9 52.2L1325.2 47.2L1337.4 42.8L1349.6 39.2L1361.9 36.4L1374.1 34.3L1386.3 33.0L1398.6 32.4L1410.8 32.2L1423.1 32.3L1435.3 32.4L1447.5 32.5L1459.8 32.2L1472.0 31.7" fill="none" stroke="#FF0000" stroke-width="3" stroke-linejoin="round"/>
<path d="M266.4 813.1L282.0 838.1H250.8zM266.4 819.9L257.8 834.2H275.0zM327.3 750.9L342.9 775.9H311.7zM327.3 757.7L318.7 772.0H335.9zM363.8 714.2L379.4 739.2H348.2zM363.8 721.0L355.2 735.3H372.4zM391.2 685.6L406.8 710.6H375.6zM391.2 692.4L382.5 706.7H399.8zM412.2 663.9L427.8 688.9H396.6zM412.2 670.7L403.6 685.0H420.9zM429.4 646.1L445.0 671.1H413.8zM429.4 652.9L420.8 667.2H438.1zM443.9 631.0L459.5 656.0H428.3zM443.9 637.8L435.3 652.1H452.6zM456.5 618.0L472.1 643.0H440.9zM456.5 624.8L447.9 639.1H465.2zM467.6 606.5L483.2 631.5H452.0zM467.6 613.3L459.0 627.6H476.3zM477.6 596.3L493.2 621.3H462.0zM477.6 603.1L468.9 617.4H486.2zM494.8 578.7L510.4 603.7H479.2zM494.8 585.5L486.1 599.8H503.4zM502.3 571.0L517.9 596.0H486.7zM502.3 577.8L493.7 592.1H511.0zM515.8 557.3L531.4 582.3H500.2zM515.8 564.1L507.1 578.4H524.4zM527.6 545.5L543.2 570.5H512.0zM527.6 552.3L518.9 566.6H536.2zM542.9 530.4L558.5 555.4H527.3zM542.9 537.2L534.3 551.5H551.6zM556.1 517.8L571.7 542.8H540.5zM556.1 524.6L547.4 538.9H564.7zM567.6 507.3L583.2 532.3H552.0zM567.6 514.1L559.0 528.4H576.3zM577.9 498.3L593.5 523.3H562.3zM577.9 505.1L569.3 519.4H586.6zM590.1 488.4L605.7 513.4H574.5zM590.1 495.2L581.5 509.5H598.8zM603.4 478.5L619.0 503.5H587.8zM603.4 485.3L594.8 499.6H612.1zM615.1 470.3L630.7 495.3H599.5zM615.1 477.1L606.4 491.4H623.7zM627.4 462.1L643.0 487.1H611.8zM627.4 468.9L618.7 483.2H636.0zM640.0 453.9L655.6 478.9H624.4zM640.0 460.7L631.3 475.0H648.6zM652.6 445.8L668.2 470.8H637.0zM652.6 452.6L643.9 466.9H661.2zM665.0 438.2L680.6 463.2H649.4zM665.0 445.0L656.3 459.3H673.6zM677.1 431.4L692.7 456.4H661.5zM677.1 438.2L668.4 452.5H685.7zM688.8 425.3L704.4 450.3H673.2zM688.8 432.1L680.2 446.4H697.5zM701.0 419.5L716.6 444.5H685.4zM701.0 426.3L692.4 440.6H709.7zM713.4 414.1L729.0 439.1H697.8zM713.4 420.9L704.7 435.2H722.0zM725.7 409.1L741.3 434.1H710.1zM725.7 415.9L717.0 430.2H734.3zM737.8 404.6L753.4 429.6H722.2zM737.8 411.4L729.1 425.7H746.4zM750.1 400.2L765.7 425.2H734.5zM750.1 407.0L741.4 421.3H758.7zM762.3 396.2L777.9 421.2H746.7zM762.3 403.0L753.7 417.3H771.0zM774.4 392.3L790.0 417.3H758.8zM774.4 399.1L765.7 413.4H783.0zM786.9 388.4L802.5 413.4H771.3zM786.9 395.2L778.2 409.5H795.5zM798.8 384.8L814.4 409.8H783.2zM798.8 391.6L790.2 405.9H807.5zM811.1 381.0L826.7 406.0H795.5zM811.1 387.8L802.5 402.1H819.8zM823.4 377.2L839.0 402.2H807.8zM823.4 384.0L814.8 398.3H832.1zM835.6 373.3L851.2 398.3H820.0zM835.6 380.1L826.9 394.4H844.2zM847.9 369.2L863.5 394.2H832.3zM847.9 376.0L839.2 390.3H856.5zM860.2 364.8L875.8 389.8H844.6zM860.2 371.6L851.5 385.9H868.8zM872.4 360.2L888.0 385.2H856.8zM872.4 367.0L863.7 381.3H881.0zM884.6 355.2L900.2 380.2H869.0zM884.6 362.0L875.9 376.3H893.2zM896.8 349.8L912.4 374.8H881.2zM896.8 356.6L888.2 370.9H905.5zM909.0 344.0L924.6 369.0H893.4zM909.0 350.8L900.4 365.1H917.7zM921.3 337.7L936.9 362.7H905.7zM921.3 344.5L912.6 358.8H929.9zM933.6 330.9L949.2 355.9H918.0zM933.6 337.7L924.9 352.0H942.2zM945.8 323.7L961.4 348.7H930.2zM945.8 330.5L937.2 344.8H954.5zM958.1 316.1L973.7 341.1H942.5zM958.1 322.9L949.4 337.2H966.7zM970.3 308.1L985.9 333.1H954.7zM970.3 314.9L961.6 329.2H978.9zM982.5 299.6L998.1 324.6H966.9zM982.5 306.4L973.9 320.7H991.2zM994.8 290.7L1010.4 315.7H979.2zM994.8 297.5L986.1 311.8H1003.4zM1007.0 281.3L1022.6 306.3H991.4zM1007.0 288.1L998.3 302.4H1015.6zM1019.2 271.5L1034.8 296.5H1003.6zM1019.2 278.3L1010.6 292.6H1027.9zM1031.5 261.4L1047.1 286.4H1015.9zM1031.5 268.2L1022.8 282.5H1040.1zM1043.7 250.9L1059.3 275.9H1028.1zM1043.7 257.7L1035.0 272.0H1052.3zM1055.9 240.2L1071.5 265.2H1040.3zM1055.9 247.0L1047.3 261.3H1064.6zM1068.2 229.2L1083.8 254.2H1052.6zM1068.2 236.0L1059.5 250.3H1076.8zM1080.4 218.1L1096.0 243.1H1064.8zM1080.4 224.9L1071.8 239.2H1089.1zM1092.6 206.8L1108.2 231.8H1077.0zM1092.6 213.6L1084.0 227.9H1101.3zM1104.9 195.5L1120.5 220.5H1089.3zM1104.9 202.3L1096.2 216.6H1113.5zM1117.1 184.1L1132.7 209.1H1101.5zM1117.1 190.9L1108.5 205.2H1125.8zM1129.4 172.8L1145.0 197.8H1113.8zM1129.4 179.6L1120.7 193.9H1138.0zM1141.6 161.5L1157.2 186.5H1126.0zM1141.6 168.3L1132.9 182.6H1150.2zM1153.8 150.3L1169.4 175.3H1138.2zM1153.8 157.1L1145.2 171.4H1162.5zM1166.1 139.3L1181.7 164.3H1150.5zM1166.1 146.1L1157.4 160.4H1174.7zM1178.3 128.4L1193.9 153.4H1162.7zM1178.3 135.2L1169.7 149.5H1187.0zM1190.5 117.8L1206.1 142.8H1174.9zM1190.5 124.6L1181.9 138.9H1199.2zM1202.8 107.5L1218.4 132.5H1187.2zM1202.8 114.3L1194.1 128.6H1211.4zM1215.0 97.6L1230.6 122.6H1199.4zM1215.0 104.4L1206.4 118.7H1223.7zM1227.3 88.0L1242.9 113.0H1211.7zM1227.3 94.8L1218.6 109.1H1235.9zM1239.5 78.9L1255.1 103.9H1223.9zM1239.5 85.7L1230.8 100.0H1248.1zM1251.7 70.2L1267.3 95.2H1236.1zM1251.7 77.0L1243.1 91.3H1260.4zM1264.0 62.1L1279.6 87.1H1248.4zM1264.0 68.9L1255.3 83.2H1272.6zM1276.2 54.6L1291.8 79.6H1260.6zM1276.2 61.4L1267.6 75.7H1284.9zM1288.4 47.6L1304.0 72.6H1272.8zM1288.4 54.4L1279.8 68.7H1297.1zM1300.7 41.2L1316.3 66.2H1285.1zM1300.7 48.0L1292.0 62.3H1309.3zM1312.9 35.5L1328.5 60.5H1297.3zM1312.9 42.3L1304.3 56.6H1321.6zM1325.2 30.5L1340.8 55.5H1309.6zM1325.2 37.3L1316.5 51.6H1333.8zM1337.4 26.1L1353.0 51.1H1321.8zM1337.4 32.9L1328.7 47.2H1346.0zM1349.6 22.5L1365.2 47.5H1334.0zM1349.6 29.3L1341.0 43.6H1358.3zM1361.9 19.7L1377.5 44.7H1346.3zM1361.9 26.5L1353.2 40.8H1370.5zM1374.1 17.6L1389.7 42.6H1358.5zM1374.1 24.4L1365.5 38.7H1382.8zM1386.3 16.3L1401.9 41.3H1370.7zM1386.3 23.1L1377.7 37.4H1395.0zM1398.6 15.7L1414.2 40.7H1383.0zM1398.6 22.5L1389.9 36.8H1407.2zM1410.8 15.5L1426.4 40.5H1395.2zM1410.8 22.3L1402.2 36.6H1419.5zM1423.1 15.6L1438.7 40.6H1407.5zM1423.1 22.4L1414.4 36.7H1431.7zM1435.3 15.7L1450.9 40.7H1419.7zM1435.3 22.5L1426.6 36.8H1443.9zM1447.5 15.8L1463.1 40.8H1431.9zM1447.5 22.6L1438.9 36.9H1456.2zM1459.8 15.5L1475.4 40.5H1444.2zM1459.8 22.3L1451.1 36.6H1468.4zM1472.0 15.0L1487.6 40.0H1456.4zM1472.0 21.8L1463.3 36.1H1480.7z" fill="#FF0000" fill-rule="nonzero"/>
<path d="M267.5 833.0L321.5 773.0L362.5 736.0L391.2 703.8L412.2 688.4L429.4 676.8L443.9 662.4L467.6 636.1L477.6 625.6L486.6 616.5L502.3 601.7L515.8 590.2L527.6 580.9L542.9 569.5L556.1 560.1L571.2 549.7L584.2 541.3L598.3 532.5L610.6 525.3L625.4 517.0L638.3 510.2L651.1 503.9L665.0 497.4L678.2 491.8L691.8 486.4L705.3 481.5L718.6 477.4L732.2 473.8L745.8 471.2L759.5 469.6L772.7 469.1L786.5 469.7L799.8 470.1L813.3 469.1L827.0 466.2L840.3 465.2L853.8 464.9L867.3 464.3L880.7 463.2L894.3 461.6L907.8 459.7L921.3 457.4L934.8 454.7L948.2 451.5L961.7 448.0L975.2 444.0L988.7 439.7L1002.2 434.9L1015.7 429.7L1029.1 424.0L1042.6 417.9L1056.1 411.1L1069.6 403.8L1083.1 395.8L1096.6 387.1L1110.0 377.7L1123.5 367.5L1137.0 356.6L1150.5 344.8L1164.0 332.2L1177.5 319.0L1191.0 305.3L1204.4 291.5L1217.9 277.5L1231.4 263.7L1244.9 250.0L1258.4 236.4L1271.9 223.0L1285.3 209.5L1298.8 196.1L1312.3 182.6L1325.8 169.2L1339.3 156.0L1352.8 143.0L1366.3 130.4L1379.7 118.3L1393.2 106.8L1406.7 95.9L1420.2 85.7L1433.7 76.4L1447.2 68.1L1460.7 60.8L1474.1 54.4L1487.6 49.0L1501.1 44.4L1514.6 40.6L1528.1 37.6L1541.6 35.2L1555.0 33.5L1568.5 32.4L1582.0 31.8L1595.5 31.6" fill="none" stroke="#0072B2" stroke-width="3" stroke-linejoin="round"/>
<path d="M267.5 816.3L283.1 841.3H251.9zM321.5 756.3L337.1 781.3H305.9zM362.5 719.3L378.1 744.3H346.9zM391.2 687.1L406.8 712.1H375.6zM412.2 671.7L427.8 696.7H396.6zM429.4 660.1L445.0 685.1H413.8zM443.9 645.7L459.5 670.7H428.3zM467.6 619.4L483.2 644.4H452.0zM477.6 608.9L493.2 633.9H462.0zM486.6 599.8L502.2 624.8H471.0zM502.3 585.0L517.9 610.0H486.7zM515.8 573.5L531.4 598.5H500.2zM527.6 564.2L543.2 589.2H512.0zM542.9 552.8L558.5 577.8H527.3zM556.1 543.4L571.7 568.4H540.5zM571.2 533.0L586.8 558.0H555.6zM584.2 524.6L599.8 549.6H568.6zM598.3 515.8L613.9 540.8H582.7zM610.6 508.6L626.2 533.6H595.0zM625.4 500.3L641.0 525.3H609.8zM638.3 493.5L653.9 518.5H622.7zM651.1 487.2L666.7 512.2H635.5zM665.0 480.7L680.6 505.7H649.4zM678.2 475.1L693.8 500.1H662.6zM691.8 469.7L707.4 494.7H676.2zM705.3 464.8L720.9 489.8H689.7zM718.6 460.7L734.2 485.7H703.0zM732.2 457.1L747.8 482.1H716.6zM745.8 454.5L761.4 479.5H730.2zM759.5 452.9L775.1 477.9H743.9zM772.7 452.4L788.3 477.4H757.1zM786.5 453.0L802.1 478.0H770.9zM799.8 453.4L815.4 478.4H784.2zM813.3 452.4L828.9 477.4H797.7zM827.0 449.5L842.6 474.5H811.4zM840.3 448.5L855.9 473.5H824.7zM853.8 448.2L869.4 473.2H838.2zM867.3 447.6L882.9 472.6H851.7zM880.7 446.5L896.3 471.5H865.1zM894.3 444.9L909.9 469.9H878.7zM907.8 443.0L923.4 468.0H892.2zM921.3 440.7L936.9 465.7H905.7zM934.8 438.0L950.4 463.0H919.2zM948.2 434.8L963.8 459.8H932.6zM961.7 431.3L977.3 456.3H946.1zM975.2 427.3L990.8 452.3H959.6zM988.7 423.0L1004.3 448.0H973.1zM1002.2 418.2L1017.8 443.2H986.6zM1015.7 413.0L1031.3 438.0H1000.1zM1029.1 407.3L1044.7 432.3H1013.5zM1042.6 401.2L1058.2 426.2H1027.0zM1056.1 394.4L1071.7 419.4H1040.5zM1069.6 387.1L1085.2 412.1H1054.0zM1083.1 379.1L1098.7 404.1H1067.5zM1096.6 370.4L1112.2 395.4H1081.0zM1110.0 361.0L1125.6 386.0H1094.4zM1123.5 350.8L1139.1 375.8H1107.9zM1137.0 339.9L1152.6 364.9H1121.4zM1150.5 328.1L1166.1 353.1H1134.9zM1164.0 315.5L1179.6 340.5H1148.4zM1177.5 302.3L1193.1 327.3H1161.9zM1191.0 288.6L1206.6 313.6H1175.4zM1204.4 274.8L1220.0 299.8H1188.8zM1217.9 260.8L1233.5 285.8H1202.3zM1231.4 247.0L1247.0 272.0H1215.8zM1244.9 233.3L1260.5 258.3H1229.3zM1258.4 219.7L1274.0 244.7H1242.8zM1271.9 206.3L1287.5 231.3H1256.3zM1285.3 192.8L1300.9 217.8H1269.7zM1298.8 179.4L1314.4 204.4H1283.2zM1312.3 165.9L1327.9 190.9H1296.7zM1325.8 152.5L1341.4 177.5H1310.2zM1339.3 139.3L1354.9 164.3H1323.7zM1352.8 126.3L1368.4 151.3H1337.2zM1366.3 113.7L1381.9 138.7H1350.7zM1379.7 101.6L1395.3 126.6H1364.1zM1393.2 90.1L1408.8 115.1H1377.6zM1406.7 79.2L1422.3 104.2H1391.1zM1420.2 69.0L1435.8 94.0H1404.6zM1433.7 59.7L1449.3 84.7H1418.1zM1447.2 51.4L1462.8 76.4H1431.6zM1460.7 44.1L1476.3 69.1H1445.1zM1474.1 37.7L1489.7 62.7H1458.5zM1487.6 32.3L1503.2 57.3H1472.0zM1501.1 27.7L1516.7 52.7H1485.5zM1514.6 23.9L1530.2 48.9H1499.0zM1528.1 20.9L1543.7 45.9H1512.5zM1541.6 18.5L1557.2 43.5H1526.0zM1555.0 16.8L1570.6 41.8H1539.4zM1568.5 15.7L1584.1 40.7H1552.9zM1582.0 15.1L1597.6 40.1H1566.4zM1595.5 14.9L1611.1 39.9H1579.9z" fill="#0072B2" fill-rule="nonzero"/>
<path d="M268.1 832.2L327.0 775.0L356.4 743.4L391.2 711.9L412.2 696.5L429.4 681.7L443.9 665.9L456.5 653.5L467.6 643.8L486.6 625.9L494.8 616.4L515.8 595.2L527.6 586.9L542.9 575.2L556.1 564.1L571.2 552.4L587.2 543.3L603.4 537.5L617.2 532.9L633.0 525.9L646.5 519.7L662.4 516.0L677.1 513.2L691.8 509.0L707.0 504.5L721.5 501.5L736.6 499.7L751.1 498.5L766.4 497.1L781.0 495.3L796.0 493.2L810.8 490.9L825.8 489.0L840.5 488.4L855.5 489.8L870.4 492.3L885.2 494.2L900.1 493.9L915.0 491.8L929.8 489.8L944.7 488.7L959.5 482.2L974.4 480.2L989.3 480.4L1004.2 477.9L1019.1 473.5L1033.9 467.9L1048.8 462.0L1063.7 456.4L1078.6 450.8L1093.4 444.5L1108.3 436.9L1123.2 428.3L1138.0 419.0L1152.9 409.7L1167.8 400.5L1182.7 390.9L1197.5 380.9L1212.4 370.2L1227.3 358.5L1242.2 345.6L1257.0 331.7L1271.9 316.9L1286.8 301.6L1301.7 285.9L1316.5 270.1L1331.4 254.5L1346.3 239.1L1361.2 223.9L1376.0 208.8L1390.9 193.9L1405.8 179.1L1420.7 164.5L1435.5 150.2L1450.4 136.3L1465.3 122.9L1480.1 110.0L1495.0 97.9L1509.9 86.6L1524.8 76.1L1539.6 66.7L1554.5 58.3L1569.4 51.2L1584.3 45.4L1599.1 40.7L1614.0 37.1L1628.9 34.5L1643.8 32.6L1658.6 31.4L1673.5 30.8L1688.4 30.5L1703.3 30.4L1718.1 30.4L1733.0 30.4" fill="none" stroke="#E51E10" stroke-width="3" stroke-linejoin="round"/>
<path d="M268.1 848.9L283.7 823.9H252.5zM268.1 842.1L259.5 827.8H276.8zM327.0 791.7L342.6 766.7H311.4zM327.0 784.9L318.4 770.6H335.6zM356.4 760.1L372.0 735.1H340.8zM356.4 753.3L347.8 739.0H365.0zM391.2 728.6L406.8 703.6H375.6zM391.2 721.8L382.5 707.5H399.8zM412.2 713.2L427.8 688.2H396.6zM412.2 706.4L403.6 692.1H420.9zM429.4 698.4L445.0 673.4H413.8zM429.4 691.6L420.8 677.3H438.1zM443.9 682.6L459.5 657.6H428.3zM443.9 675.8L435.3 661.5H452.6zM456.5 670.2L472.1 645.2H440.9zM456.5 663.4L447.9 649.1H465.2zM467.6 660.5L483.2 635.5H452.0zM467.6 653.7L459.0 639.4H476.3zM486.6 642.6L502.2 617.6H471.0zM486.6 635.8L477.9 621.5H495.2zM494.8 633.1L510.4 608.1H479.2zM494.8 626.3L486.1 612.0H503.4zM515.8 611.9L531.4 586.9H500.2zM515.8 605.1L507.1 590.8H524.4zM527.6 603.6L543.2 578.6H512.0zM527.6 596.8L518.9 582.5H536.2zM542.9 591.9L558.5 566.9H527.3zM542.9 585.1L534.3 570.8H551.6zM556.1 580.8L571.7 555.8H540.5zM556.1 574.0L547.4 559.7H564.7zM571.2 569.1L586.8 544.1H555.6zM571.2 562.3L562.6 548.0H579.9zM587.2 560.0L602.8 535.0H571.6zM587.2 553.2L578.6 538.9H595.9zM603.4 554.2L619.0 529.2H587.8zM603.4 547.4L594.8 533.1H612.1zM617.2 549.6L632.8 524.6H601.6zM617.2 542.8L608.6 528.5H625.9zM633.0 542.6L648.6 517.6H617.4zM633.0 535.8L624.3 521.5H641.6zM646.5 536.4L662.1 511.4H630.9zM646.5 529.6L637.8 515.3H655.1zM662.4 532.7L678.0 507.7H646.8zM662.4 525.9L653.7 511.6H671.0zM677.1 529.9L692.7 504.9H661.5zM677.1 523.1L668.4 508.8H685.7zM691.8 525.7L707.4 500.7H676.2zM691.8 518.9L683.1 504.6H700.4zM707.0 521.2L722.6 496.2H691.4zM707.0 514.4L698.3 500.1H715.6zM721.5 518.2L737.1 493.2H705.9zM721.5 511.4L712.9 497.1H730.2zM736.6 516.4L752.2 491.4H721.0zM736.6 509.6L727.9 495.3H745.2zM751.1 515.2L766.7 490.2H735.5zM751.1 508.4L742.4 494.1H759.7zM766.4 513.8L782.0 488.8H750.8zM766.4 507.0L757.7 492.7H775.0zM781.0 512.0L796.6 487.0H765.4zM781.0 505.2L772.4 490.9H789.7zM796.0 509.9L811.6 484.9H780.4zM796.0 503.1L787.3 488.8H804.6zM810.8 507.6L826.4 482.6H795.2zM810.8 500.8L802.2 486.5H819.5zM825.8 505.7L841.4 480.7H810.2zM825.8 498.9L817.1 484.6H834.4zM840.5 505.1L856.1 480.1H824.9zM840.5 498.3L831.9 484.0H849.2zM855.5 506.5L871.1 481.5H839.9zM855.5 499.7L846.9 485.4H864.2zM870.4 509.0L886.0 484.0H854.8zM870.4 502.2L861.7 487.9H879.0zM885.2 510.9L900.8 485.9H869.6zM885.2 504.1L876.6 489.8H893.9zM900.1 510.6L915.7 485.6H884.5zM900.1 503.8L891.4 489.5H908.7zM915.0 508.5L930.6 483.5H899.4zM915.0 501.7L906.3 487.4H923.6zM929.8 506.5L945.4 481.5H914.2zM929.8 499.7L921.2 485.4H938.5zM944.7 505.4L960.3 480.4H929.1zM944.7 498.6L936.1 484.3H953.4zM959.5 498.9L975.1 473.9H943.9zM959.5 492.1L950.9 477.8H968.2zM974.4 496.9L990.0 471.9H958.8zM974.4 490.1L965.8 475.8H983.1zM989.3 497.1L1004.9 472.1H973.7zM989.3 490.3L980.7 476.0H998.0zM1004.2 494.6L1019.8 469.6H988.6zM1004.2 487.8L995.5 473.5H1012.8zM1019.1 490.2L1034.7 465.2H1003.5zM1019.1 483.4L1010.4 469.1H1027.7zM1033.9 484.6L1049.5 459.6H1018.3zM1033.9 477.8L1025.3 463.5H1042.6zM1048.8 478.7L1064.4 453.7H1033.2zM1048.8 471.9L1040.1 457.6H1057.4zM1063.7 473.1L1079.3 448.1H1048.1zM1063.7 466.3L1055.0 452.0H1072.3zM1078.6 467.5L1094.2 442.5H1063.0zM1078.6 460.7L1069.9 446.4H1087.2zM1093.4 461.2L1109.0 436.2H1077.8zM1093.4 454.4L1084.8 440.1H1102.1zM1108.3 453.6L1123.9 428.6H1092.7zM1108.3 446.8L1099.7 432.5H1117.0zM1123.2 445.0L1138.8 420.0H1107.6zM1123.2 438.2L1114.5 423.9H1131.8zM1138.0 435.7L1153.6 410.7H1122.4zM1138.0 428.9L1129.4 414.6H1146.7zM1152.9 426.4L1168.5 401.4H1137.3zM1152.9 419.6L1144.3 405.3H1161.6zM1167.8 417.2L1183.4 392.2H1152.2zM1167.8 410.4L1159.1 396.1H1176.4zM1182.7 407.6L1198.3 382.6H1167.1zM1182.7 400.8L1174.0 386.5H1191.3zM1197.5 397.6L1213.1 372.6H1181.9zM1197.5 390.8L1188.9 376.5H1206.2zM1212.4 386.9L1228.0 361.9H1196.8zM1212.4 380.1L1203.8 365.8H1221.1zM1227.3 375.2L1242.9 350.2H1211.7zM1227.3 368.4L1218.6 354.1H1235.9zM1242.2 362.3L1257.8 337.3H1226.6zM1242.2 355.5L1233.5 341.2H1250.8zM1257.0 348.4L1272.6 323.4H1241.4zM1257.0 341.6L1248.4 327.3H1265.7zM1271.9 333.6L1287.5 308.6H1256.3zM1271.9 326.8L1263.3 312.5H1280.6zM1286.8 318.3L1302.4 293.3H1271.2zM1286.8 311.5L1278.1 297.2H1295.4zM1301.7 302.6L1317.3 277.6H1286.1zM1301.7 295.8L1293.0 281.5H1310.3zM1316.5 286.8L1332.1 261.8H1300.9zM1316.5 280.0L1307.9 265.7H1325.2zM1331.4 271.2L1347.0 246.2H1315.8zM1331.4 264.4L1322.8 250.1H1340.1zM1346.3 255.8L1361.9 230.8H1330.7zM1346.3 249.0L1337.6 234.7H1354.9zM1361.2 240.6L1376.8 215.6H1345.6zM1361.2 233.8L1352.5 219.5H1369.8zM1376.0 225.5L1391.6 200.5H1360.4zM1376.0 218.7L1367.4 204.4H1384.7zM1390.9 210.6L1406.5 185.6H1375.3zM1390.9 203.8L1382.3 189.5H1399.6zM1405.8 195.8L1421.4 170.8H1390.2zM1405.8 189.0L1397.1 174.7H1414.4zM1420.7 181.2L1436.3 156.2H1405.1zM1420.7 174.4L1412.0 160.1H1429.3zM1435.5 166.9L1451.1 141.9H1419.9zM1435.5 160.1L1426.9 145.8H1444.2zM1450.4 153.0L1466.0 128.0H1434.8zM1450.4 146.2L1441.7 131.9H1459.0zM1465.3 139.6L1480.9 114.6H1449.7zM1465.3 132.8L1456.6 118.5H1473.9zM1480.1 126.7L1495.7 101.7H1464.5zM1480.1 119.9L1471.5 105.6H1488.8zM1495.0 114.6L1510.6 89.6H1479.4zM1495.0 107.8L1486.4 93.5H1503.7zM1509.9 103.3L1525.5 78.3H1494.3zM1509.9 96.5L1501.2 82.2H1518.5zM1524.8 92.8L1540.4 67.8H1509.2zM1524.8 86.0L1516.1 71.7H1533.4zM1539.6 83.4L1555.2 58.4H1524.0zM1539.6 76.6L1531.0 62.3H1548.3zM1554.5 75.0L1570.1 50.0H1538.9zM1554.5 68.2L1545.9 53.9H1563.2zM1569.4 67.9L1585.0 42.9H1553.8zM1569.4 61.1L1560.7 46.8H1578.0zM1584.3 62.1L1599.9 37.1H1568.7zM1584.3 55.3L1575.6 41.0H1592.9zM1599.1 57.4L1614.7 32.4H1583.5zM1599.1 50.6L1590.5 36.3H1607.8zM1614.0 53.8L1629.6 28.8H1598.4zM1614.0 47.0L1605.4 32.7H1622.7zM1628.9 51.2L1644.5 26.2H1613.3zM1628.9 44.4L1620.2 30.1H1637.5zM1643.8 49.3L1659.4 24.3H1628.2zM1643.8 42.5L1635.1 28.2H1652.4zM1658.6 48.1L1674.2 23.1H1643.0zM1658.6 41.3L1650.0 27.0H1667.3zM1673.5 47.5L1689.1 22.5H1657.9zM1673.5 40.7L1664.9 26.4H1682.2zM1688.4 47.2L1704.0 22.2H1672.8zM1688.4 40.4L1679.7 26.1H1697.0zM1703.3 47.1L1718.9 22.1H1687.7zM1703.3 40.3L1694.6 26.0H1711.9zM1718.1 47.1L1733.7 22.1H1702.5zM1718.1 40.3L1709.5 26.0H1726.8zM1733.0 47.1L1748.6 22.1H1717.4zM1733.0 40.3L1724.3 26.0H1741.7z" fill="#E51E10" fill-rule="nonzero"/>
<path d="M1701.0 409.9h29.0v29.0h-29.0zM1704.9 413.8v21.2h21.2v-21.2z" fill="#9400D3" fill-rule="nonzero"/>
<path d="M1701.1 475.0h28.8v28.8h-28.8z" fill="#009E73" fill-rule="nonzero"/>
<path d="M1703.0 553.9a12.55 12.55 0 1 0 25.1 0a12.55 12.55 0 1 0 -25.1 0z" fill="none" stroke="#56B4E9" stroke-width="3.7"/>
<path d="M1701.3 618.8a14.2 14.2 0 1 0 28.4 0a14.2 14.2 0 1 0 -28.4 0z" fill="#E69F00" fill-rule="nonzero"/>
<path d="M1715.5 667.9L1731.1 692.9H1699.9zM1715.5 674.7L1706.8 689.0H1724.2z" fill="#FF0000" fill-rule="nonzero"/>
<path d="M1715.5 732.7L1731.1 757.7H1699.9z" fill="#0072B2" fill-rule="nonzero"/>
<path d="M1715.5 828.9L1731.1 803.9H1699.9zM1715.5 822.1L1706.8 807.8H1724.2z" fill="#E51E10" fill-rule="nonzero"/>
<path d="M486.1 475.9H1106M486.1 503.4H1106" stroke="#000" stroke-width="5.8" stroke-dasharray="13.9 19.77" fill="none"/>
<rect x="260.6" y="30.2" width="1519.4" height="841.15" stroke="#000" stroke-width="2.9" fill="none"/>
<text transform="matrix(0.7333 0 0 0.7481 206.70 957.25)" font-size="100">10</text>
<text transform="matrix(0.5379 0 0 0.5379 279.62 931.00)" font-size="100">2</text>
<text transform="matrix(0.7333 0 0 0.7481 423.77 957.25)" font-size="100">10</text>
<text transform="matrix(0.5299 0 0 0.5299 496.36 930.47)" font-size="100">3</text>
<text transform="matrix(0.7333 0 0 0.7481 640.84 957.25)" font-size="100">10</text>
<text transform="matrix(0.5462 0 0 0.5462 713.15 931.27)" font-size="100">4</text>
<text transform="matrix(0.7333 0 0 0.7481 857.91 957.25)" font-size="100">10</text>
<text transform="matrix(0.5338 0 0 0.5338 930.13 930.47)" font-size="100">5</text>
<text transform="matrix(0.7333 0 0 0.7481 1074.98 957.25)" font-size="100">10</text>
<text transform="matrix(0.5299 0 0 0.5299 1147.44 930.47)" font-size="100">6</text>
<text transform="matrix(0.7333 0 0 0.7481 1292.05 957.25)" font-size="100">10</text>
<text transform="matrix(0.5462 0 0 0.5462 1363.54 931.27)" font-size="100">7</text>
<text transform="matrix(0.7333 0 0 0.7481 1509.12 957.25)" font-size="100">10</text>
<text transform="matrix(0.5259 0 0 0.5259 1582.07 930.47)" font-size="100">8</text>
<text transform="matrix(0.7333 0 0 0.7481 1726.19 957.25)" font-size="100">10</text>
<text transform="matrix(0.5299 0 0 0.5299 1799.31 930.47)" font-size="100">9</text>
<text transform="matrix(0.7241 0 0 0.7348 124.38 699.47)" font-size="100">10</text>
<text transform="matrix(0.5156 0 0 0.5156 196.71 672.68)" font-size="100">0</text>
<text transform="matrix(0.7241 0 0 0.7348 124.38 423.47)" font-size="100">10</text>
<text transform="matrix(0.5313 0 0 0.5313 195.52 397.20)" font-size="100">1</text>
<text transform="matrix(0.7241 0 0 0.7348 124.38 147.47)" font-size="100">10</text>
<text transform="matrix(0.5273 0 0 0.5273 196.68 121.20)" font-size="100">2</text>
<text transform="matrix(0.8840 0 0 0.8404 1001.92 1053.86)" font-size="100" font-style="italic">t</text>
<text transform="matrix(0 -0.7318 0.8258 0 97.76 557.39)" font-size="100" style="stroke-width:3.2px">⟨</text>
<text transform="matrix(0 -0.8022 0.7473 0 91.30 527.20)" font-size="100" font-style="italic">x</text>
<text transform="matrix(0 -0.5373 0.6128 0 54.76 527.81)" font-size="100">→</text>
<text transform="matrix(0 -0.4875 0.5152 0 62.90 487.89)" font-size="100">2</text>
<text transform="matrix(0 -0.6667 0.8167 0 91.35 455.80)" font-size="100">(</text>
<text transform="matrix(0 -0.7560 0.8404 0 89.86 430.20)" font-size="100" font-style="italic">t</text>
<text transform="matrix(0 -0.6500 0.8167 0 91.35 403.75)" font-size="100">)</text>
<text transform="matrix(0 -0.7182 0.8258 0 97.76 378.55)" font-size="100" style="stroke-width:3.2px">⟩</text>
<text transform="matrix(0.8230 0 0 0.7614 1510.06 446.30)" font-size="100" font-style="italic">λ</text>
<text transform="matrix(1.0366 0 0 0.6080 1565.82 446.86)" font-size="100">=</text>
<text transform="matrix(0.7357 0 0 0.7378 1643.46 445.26)" font-size="100">0</text>
<text transform="matrix(0.8161 0 0 0.7614 1405.04 511.00)" font-size="100" font-style="italic">λ</text>
<text transform="matrix(1.0387 0 0 0.6080 1460.51 511.56)" font-size="100">=</text>
<text transform="matrix(0.7356 0 0 0.7393 1538.78 510.16)" font-size="100">10</text>
<text transform="matrix(0.6882 0 0 0.4400 1612.56 484.52)" font-size="100">−</text>
<text transform="matrix(0.5477 0 0 0.5477 1650.87 482.57)" font-size="100">4</text>
<text transform="matrix(0.8230 0 0 0.7614 1278.06 575.70)" font-size="100" font-style="italic">λ</text>
<text transform="matrix(1.0344 0 0 0.6080 1333.73 576.26)" font-size="100">=</text>
<text transform="matrix(0.7225 0 0 0.7439 1412.75 574.70)" font-size="100">2</text>
<text transform="matrix(0.8963 0 0 0.8840 1468.53 585.89)" font-size="100">×</text>
<text transform="matrix(0.7356 0 0 0.7393 1538.78 574.86)" font-size="100">10</text>
<text transform="matrix(0.6882 0 0 0.4400 1612.56 549.22)" font-size="100">−</text>
<text transform="matrix(0.5477 0 0 0.5477 1650.87 547.27)" font-size="100">4</text>
<text transform="matrix(0.8230 0 0 0.7614 1278.06 640.40)" font-size="100" font-style="italic">λ</text>
<text transform="matrix(1.0344 0 0 0.6080 1333.73 640.96)" font-size="100">=</text>
<text transform="matrix(0.7225 0 0 0.7383 1411.66 638.66)" font-size="100">5</text>
<text transform="matrix(0.8963 0 0 0.8840 1468.53 650.59)" font-size="100">×</text>
<text transform="matrix(0.7356 0 0 0.7393 1538.78 639.56)" font-size="100">10</text>
<text transform="matrix(0.6882 0 0 0.4400 1612.56 613.92)" font-size="100">−</text>
<text transform="matrix(0.5477 0 0 0.5477 1650.87 611.97)" font-size="100">4</text>
<text transform="matrix(0.8230 0 0 0.7614 1278.06 705.10)" font-size="100" font-style="italic">λ</text>
<text transform="matrix(1.0344 0 0 0.6080 1333.73 705.66)" font-size="100">=</text>
<text transform="matrix(0.7136 0 0 0.7554 1411.36 704.48)" font-size="100">7</text>
<text transform="matrix(0.8963 0 0 0.8840 1468.53 715.29)" font-size="100">×</text>
<text transform="matrix(0.7356 0 0 0.7393 1538.78 704.26)" font-size="100">10</text>
<text transform="matrix(0.6882 0 0 0.4400 1612.56 678.62)" font-size="100">−</text>
<text transform="matrix(0.5477 0 0 0.5477 1650.87 676.67)" font-size="100">4</text>
<text transform="matrix(0.8230 0 0 0.7614 1278.06 769.80)" font-size="100" font-style="italic">λ</text>
<text transform="matrix(1.0344 0 0 0.6080 1333.73 770.36)" font-size="100">=</text>
<text transform="matrix(0.6721 0 0 0.7328 1413.98 768.07)" font-size="100">9</text>
<text transform="matrix(0.8963 0 0 0.8840 1468.53 779.99)" font-size="100">×</text>
<text transform="matrix(0.7356 0 0 0.7393 1538.78 768.96)" font-size="100">10</text>
<text transform="matrix(0.6882 0 0 0.4400 1612.56 743.32)" font-size="100">−</text>
<text transform="matrix(0.5477 0 0 0.5477 1650.87 741.37)" font-size="100">4</text>
<text transform="matrix(0.8184 0 0 0.7614 1405.55 834.50)" font-size="100" font-style="italic">λ</text>
<text transform="matrix(1.0344 0 0 0.6080 1460.63 835.06)" font-size="100">=</text>
<text transform="matrix(0.7356 0 0 0.7393 1538.78 833.66)" font-size="100">10</text>
<text transform="matrix(0.6882 0 0 0.4400 1612.56 808.02)" font-size="100">−</text>
<text transform="matrix(0.5313 0 0 0.5313 1651.10 805.27)" font-size="100">3</text>
</svg>
</body></html>
